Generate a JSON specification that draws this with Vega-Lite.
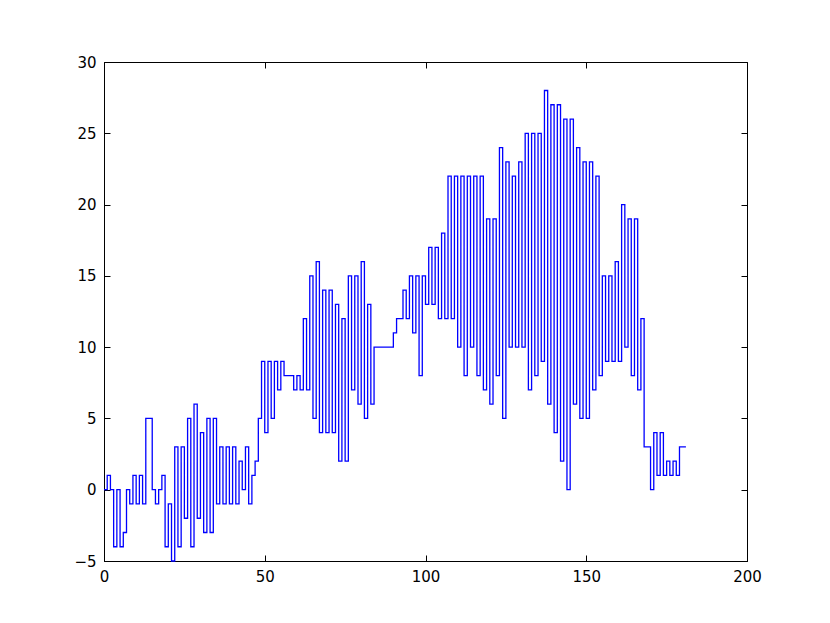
{
  "$schema": "https://vega.github.io/schema/vega-lite/v6.json",
  "autosize": "none",
  "width": 643,
  "height": 499,
  "padding": {"left": 104, "top": 62, "right": 83, "bottom": 62},
  "background": "white",
  "view": {"stroke": "black", "strokeWidth": 1},
  "config": {
    "axis": {
      "grid": false,
      "title": null,
      "labelFont": "DejaVu Sans",
      "labelFontSize": 15,
      "labelColor": "black",
      "tickColor": "black",
      "domainColor": "black",
      "tickSize": -6,
      "tickWidth": 1,
      "labelPadding": 14,
      "labelFlush": false,
      "labelOverlap": false
    }
  },
  "data": {
    "values": [
      {"x":0,"y":0},{"x":1,"y":0},{"x":2,"y":1},{"x":3,"y":0},{"x":4,"y":-4},{"x":5,"y":0},{"x":6,"y":-4},{"x":7,"y":-3},{"x":8,"y":0},{"x":9,"y":-1},
      {"x":10,"y":1},{"x":11,"y":-1},{"x":12,"y":1},{"x":13,"y":-1},{"x":14,"y":5},{"x":15,"y":5},{"x":16,"y":0},{"x":17,"y":-1},{"x":18,"y":0},{"x":19,"y":1},
      {"x":20,"y":-4},{"x":21,"y":-1},{"x":22,"y":-5},{"x":23,"y":3},{"x":24,"y":-4},{"x":25,"y":3},{"x":26,"y":-2},{"x":27,"y":5},{"x":28,"y":-4},{"x":29,"y":6},
      {"x":30,"y":-2},{"x":31,"y":4},{"x":32,"y":-3},{"x":33,"y":5},{"x":34,"y":-3},{"x":35,"y":5},{"x":36,"y":-1},{"x":37,"y":3},{"x":38,"y":-1},{"x":39,"y":3},
      {"x":40,"y":-1},{"x":41,"y":3},{"x":42,"y":-1},{"x":43,"y":2},{"x":44,"y":0},{"x":45,"y":3},{"x":46,"y":-1},{"x":47,"y":1},{"x":48,"y":2},{"x":49,"y":5},
      {"x":50,"y":9},{"x":51,"y":4},{"x":52,"y":9},{"x":53,"y":5},{"x":54,"y":9},{"x":55,"y":7},{"x":56,"y":9},{"x":57,"y":8},{"x":58,"y":8},{"x":59,"y":8},
      {"x":60,"y":7},{"x":61,"y":8},{"x":62,"y":7},{"x":63,"y":12},{"x":64,"y":7},{"x":65,"y":15},{"x":66,"y":5},{"x":67,"y":16},{"x":68,"y":4},{"x":69,"y":14},
      {"x":70,"y":4},{"x":71,"y":14},{"x":72,"y":4},{"x":73,"y":13},{"x":74,"y":2},{"x":75,"y":12},{"x":76,"y":2},{"x":77,"y":15},{"x":78,"y":7},{"x":79,"y":15},
      {"x":80,"y":6},{"x":81,"y":16},{"x":82,"y":5},{"x":83,"y":13},{"x":84,"y":6},{"x":85,"y":10},{"x":86,"y":10},{"x":87,"y":10},{"x":88,"y":10},{"x":89,"y":10},
      {"x":90,"y":10},{"x":91,"y":11},{"x":92,"y":12},{"x":93,"y":12},{"x":94,"y":14},{"x":95,"y":12},{"x":96,"y":15},{"x":97,"y":11},{"x":98,"y":15},{"x":99,"y":8},
      {"x":100,"y":15},{"x":101,"y":13},{"x":102,"y":17},{"x":103,"y":13},{"x":104,"y":17},{"x":105,"y":12},{"x":106,"y":18},{"x":107,"y":12},{"x":108,"y":22},{"x":109,"y":12},
      {"x":110,"y":22},{"x":111,"y":10},{"x":112,"y":22},{"x":113,"y":8},{"x":114,"y":22},{"x":115,"y":10},{"x":116,"y":22},{"x":117,"y":8},{"x":118,"y":22},{"x":119,"y":7},
      {"x":120,"y":19},{"x":121,"y":6},{"x":122,"y":19},{"x":123,"y":8},{"x":124,"y":24},{"x":125,"y":5},{"x":126,"y":23},{"x":127,"y":10},{"x":128,"y":22},{"x":129,"y":10},
      {"x":130,"y":23},{"x":131,"y":10},{"x":132,"y":25},{"x":133,"y":7},{"x":134,"y":25},{"x":135,"y":8},{"x":136,"y":25},{"x":137,"y":9},{"x":138,"y":28},{"x":139,"y":6},
      {"x":140,"y":27},{"x":141,"y":4},{"x":142,"y":27},{"x":143,"y":2},{"x":144,"y":26},{"x":145,"y":0},{"x":146,"y":26},{"x":147,"y":6},{"x":148,"y":24},{"x":149,"y":5},
      {"x":150,"y":23},{"x":151,"y":5},{"x":152,"y":23},{"x":153,"y":7},{"x":154,"y":22},{"x":155,"y":8},{"x":156,"y":15},{"x":157,"y":9},{"x":158,"y":15},{"x":159,"y":9},
      {"x":160,"y":16},{"x":161,"y":9},{"x":162,"y":20},{"x":163,"y":10},{"x":164,"y":19},{"x":165,"y":8},{"x":166,"y":19},{"x":167,"y":7},{"x":168,"y":12},{"x":169,"y":3},
      {"x":170,"y":3},{"x":171,"y":0},{"x":172,"y":4},{"x":173,"y":1},{"x":174,"y":4},{"x":175,"y":1},{"x":176,"y":2},{"x":177,"y":1},{"x":178,"y":2},{"x":179,"y":1},
      {"x":180,"y":3},{"x":181,"y":3}
    ]
  },
  "layer": [
    {
      "mark": {"type": "line", "interpolate": "step-before", "color": "#0000ff", "strokeWidth": 1.3},
      "encoding": {
        "x": {"field": "x", "type": "quantitative", "scale": {"domain": [0, 200], "nice": false, "zero": false},
              "axis": {"orient": "bottom", "values": [0, 50, 100, 150, 200]}},
        "y": {"field": "y", "type": "quantitative", "scale": {"domain": [-5, 30], "nice": false, "zero": false},
              "axis": {"orient": "left", "values": [-5, 0, 5, 10, 15, 20, 25, 30], "labelExpr": "replace(datum.label, '-', '\u2212')"}}
      }
    },
    {
      "mark": {"type": "line", "interpolate": "step-before", "opacity": 0},
      "encoding": {
        "x": {"field": "x", "type": "quantitative", "scale": {"domain": [0, 200], "nice": false, "zero": false},
              "axis": {"orient": "top", "values": [0, 50, 100, 150, 200], "labels": false, "domain": false}},
        "y": {"field": "y", "type": "quantitative", "scale": {"domain": [-5, 30], "nice": false, "zero": false},
              "axis": {"orient": "right", "values": [-5, 0, 5, 10, 15, 20, 25, 30], "labels": false, "domain": false}}
      }
    }
  ],
  "resolve": {"axis": {"x": "independent", "y": "independent"}}
}
